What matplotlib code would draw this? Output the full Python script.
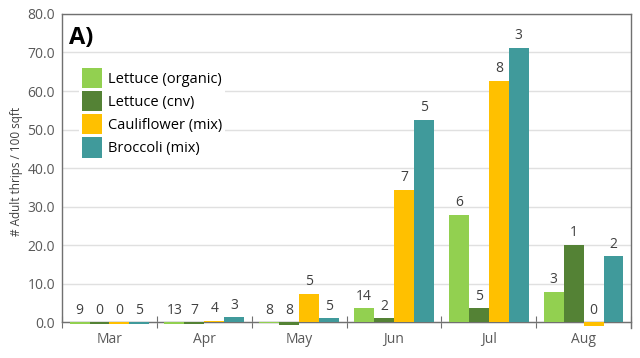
import matplotlib
matplotlib.use("Agg")
import matplotlib.pyplot as plt
import numpy as np

plt.rcParams['font.family'] = ['Open Sans', 'DejaVu Sans']

months = ["Mar", "Apr", "May", "Jun", "Jul", "Aug"]
series = ["Lettuce (organic)", "Lettuce (cnv)", "Cauliflower (mix)", "Broccoli (mix)"]
lettuce_org = [-0.6, -0.5, -0.2, 3.6, 27.8, 7.8]
lettuce_cnv = [-0.6, -0.6, -0.8, 1.0, 3.6, 20.0]
cauliflower = [-0.6, 0.3, 7.3, 34.3, 62.6, -0.9]
broccoli = [-0.6, 1.3, 1.0, 52.5, 71.2, 17.1]
n_labels = [[9, 13, 8, 14, 6, 3],
            [0, 7, 8, 2, 5, 1],
            [0, 4, 5, 7, 8, 0],
            [5, 3, 5, 5, 3, 2]]
colors = ["#92D050", "#548235", "#FFC000", "#409A9B"]

values = [lettuce_org, lettuce_cnv, cauliflower, broccoli]

fig = plt.figure(figsize=(6.4, 3.58), dpi=100)
ax = fig.add_axes([0.097, 0.084, 0.889, 0.877])

x = np.arange(len(months))
w = 0.21
for i, (vals, col, lab) in enumerate(zip(values, colors, series)):
    pos = x + (i - 1.5) * w
    ax.bar(pos, vals, width=w, color=col, label=lab, zorder=3)
    for p, v, n in zip(pos, vals, n_labels[i]):
        ax.text(p, max(v, 0) + 1.2, str(n), ha="center", va="bottom",
                fontsize=10, color="#404040", zorder=4)

ax.set_xlim(-0.5, 5.5)
ax.set_ylim(-1.5, 80)
ax.set_yticks(np.arange(0, 81, 10))
ax.set_yticklabels(["%.1f" % t for t in np.arange(0, 81, 10)], fontsize=10, color="#595959")
ax.yaxis.grid(True, color="#e0e0e0", linewidth=1, zorder=0)
ax.tick_params(axis="y", length=0, pad=5)

ax.spines["bottom"].set_position(("data", 0))
for s in ["top", "right", "left", "bottom"]:
    ax.spines[s].set_color("#707070")
    ax.spines[s].set_linewidth(1)
ax.spines["left"].set_bounds(0, 80)

ax.set_xticks(np.arange(-0.5, 6, 1))
ax.set_xticklabels([])
ax.tick_params(axis="x", which="major", direction="inout", length=8, color="#707070")
ax.set_xticks(x, minor=True)
ax.set_xticklabels(months, minor=True, fontsize=10, color="#595959")
ax.tick_params(axis="x", which="minor", length=0, pad=7)

ax.set_ylabel("# Adult thrips / 100 sqft", fontsize=8.5, color="#404040", labelpad=3)

ax.text(0.012, 0.925, "A)", transform=ax.transAxes, fontsize=17, fontweight="bold",
        va="center", ha="left")

leg = ax.legend(loc="upper left", bbox_to_anchor=(0.017, 0.86), fontsize=10.5,
                frameon=True, framealpha=1, edgecolor="none", handlelength=1.4,
                handleheight=1.75, labelspacing=0.2, borderpad=0.2, handletextpad=0.4)
leg.set_zorder(5)

fig.savefig("out.png", dpi=100)
